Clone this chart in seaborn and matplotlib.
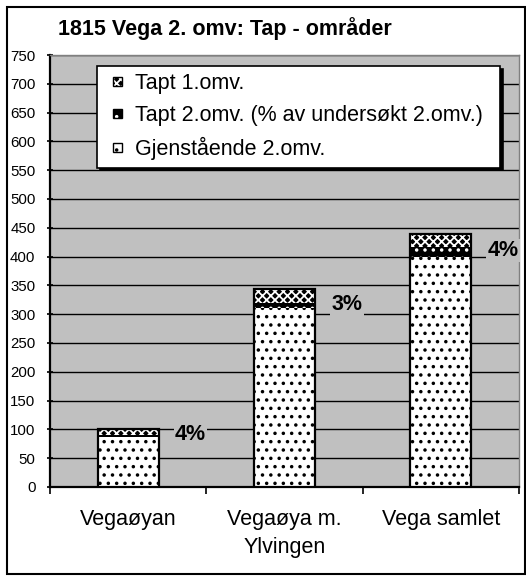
import matplotlib
matplotlib.use("Agg")
import matplotlib.pyplot as plt
import seaborn as sns
import pandas as pd
from matplotlib.patches import Rectangle, Patch
from matplotlib.legend_handler import HandlerBase

# ---- data ----
categories = ["Vegaøyan", "Vegaøya m.\nYlvingen", "Vega samlet"]
gjenstaende = [87, 310, 399]     # Gjenstående 2.omv.
tapt2 = [4, 9, 17]               # Tapt 2.omv.
tapt1 = [9, 24, 23]              # Tapt 1.omv.
pct_labels = ["4%", "3%", "4%"]
series_names = ["Tapt 1.omv.", "Tapt 2.omv. (% av undersøkt 2.omv.)", "Gjenstående 2.omv."]
title = "1815 Vega 2. omv: Tap - områder"
yticks = list(range(0, 751, 50))

sns.set_theme(style="white")
plt.rcParams["font.family"] = ["Liberation Sans", "DejaVu Sans"]
plt.rcParams["hatch.linewidth"] = 1.3
for k in ["text.color", "axes.labelcolor", "xtick.color", "ytick.color",
          "xtick.labelcolor", "ytick.labelcolor"]:
    plt.rcParams[k] = "black"

W, H = 526, 576
fig = plt.figure(figsize=(W / 100, H / 100), dpi=100)
fig.patch.set_facecolor("white")
ax = fig.add_axes([50 / W, 1 - 487 / H, 469 / W, 432 / H])
ax.set_facecolor("#C0C0C0")

df = pd.DataFrame({
    "cat": categories,
    "gj": gjenstaende,
    "mid": [g + t for g, t in zip(gjenstaende, tapt2)],
    "tot": [g + t + u for g, t, u in zip(gjenstaende, tapt2, tapt1)],
})

bw = 0.39
styles = {
    "tot": ("black", "white", "xxxx"),
    "mid": ("black", "white", ".."),
    "gj": ("white", "black", ".."),
}

def layer(col):
    face, hatchcol, hatch = styles[col]
    n0 = len(ax.patches)
    sns.barplot(data=df, x="cat", y=col, ax=ax, width=bw, color=face,
                edgecolor=hatchcol, linewidth=0, saturation=1, zorder=3)
    for p in ax.patches[n0:]:
        p.set_facecolor(face)
        p.set_edgecolor(hatchcol)
        p.set_hatch(hatch)
        p.set_linewidth(0)

layer("tot")
layer("mid")
layer("gj")
# outline
n0 = len(ax.patches)
sns.barplot(data=df, x="cat", y="tot", ax=ax, width=bw, fill=False,
            color="black", linewidth=1.6, zorder=4)
for p in ax.patches[n0:]:
    p.set_edgecolor("black")
    p.set_facecolor("none")
    p.set_hatch(None)

ax.set_xlim(-0.5, 2.5)
ax.set_ylim(0, 750)
ax.set_yticks(yticks)
ax.set_yticklabels([str(v) for v in yticks], fontsize=10.8, color="black")
ax.yaxis.grid(True, color="black", linewidth=1)
ax.xaxis.grid(False)
ax.set_axisbelow(True)
ax.set_xlabel("")
ax.set_ylabel("")

ax.set_xticks([0, 1, 2])
ax.set_xticklabels(categories, fontsize=15.5, linespacing=1.45, color="black")
ax.set_xticks([-0.5, 0.5, 1.5, 2.5], minor=True)
ax.tick_params(axis="x", which="major", length=0, pad=16)
ax.tick_params(axis="x", which="minor", length=5, width=1.2, direction="out", color="black", bottom=True)
ax.tick_params(axis="y", length=5, width=1.2, direction="inout", color="black", pad=8, left=True)

for s in ["left", "bottom"]:
    ax.spines[s].set_color("black")
    ax.spines[s].set_linewidth(1.6)
for s in ["top", "right"]:
    ax.spines[s].set_color("#808080")
    ax.spines[s].set_linewidth(1)

# data labels
for i, (g, t, lab) in enumerate(zip(gjenstaende, tapt2, pct_labels)):
    ax.text(i + 0.3, g + t / 2 + 3, lab, fontsize=15.5, fontweight="bold",
            color="black", ha="left", va="center", zorder=5,
            bbox=dict(facecolor="#C0C0C0", edgecolor="none", pad=1))

# legend with small outlined pattern squares
class SquareHandler(HandlerBase):
    def create_artists(self, legend, orig_handle, xdescent, ydescent,
                       width, height, fontsize, trans):
        s = 6.5
        x0 = width - s - xdescent
        y0 = (height - s) / 2 - ydescent
        fill = Rectangle((x0, y0), s, s, facecolor=orig_handle.get_facecolor(),
                         edgecolor=orig_handle.get_edgecolor(),
                         hatch=orig_handle.get_hatch(), linewidth=0,
                         transform=trans)
        edge = Rectangle((x0, y0), s, s, fill=False, edgecolor="black",
                         linewidth=1, transform=trans)
        return [fill, edge]

handles = [Patch(facecolor=styles[k][0], edgecolor=styles[k][1], hatch=styles[k][2])
           for k in ["tot", "mid", "gj"]]
leg = ax.legend(handles, series_names, loc="upper left",
                bbox_to_anchor=(0.1, 0.741, 0.8594, 0.234), mode="expand",
                borderaxespad=0, fontsize=15.5, frameon=True, fancybox=False,
                edgecolor="black", framealpha=1, facecolor="white",
                shadow={"color": "black", "alpha": 1},
                handlelength=0.8, handletextpad=0.6, labelspacing=0.5,
                borderpad=0.35, labelcolor="black",
                handler_map={Patch: SquareHandler()})
leg.get_frame().set_linewidth(1.2)
leg.set_zorder(10)

fig.text(58 / W, 1 - 35 / H, title, fontsize=15.5, fontweight="bold",
         color="black", ha="left", va="baseline")

fig.add_artist(Rectangle((7 / W, 1 - 574 / H), (525 - 7) / W, (574 - 7) / H,
                         transform=fig.transFigure, fill=False,
                         edgecolor="black", linewidth=1.5))

fig.savefig("out.png", dpi=100)
